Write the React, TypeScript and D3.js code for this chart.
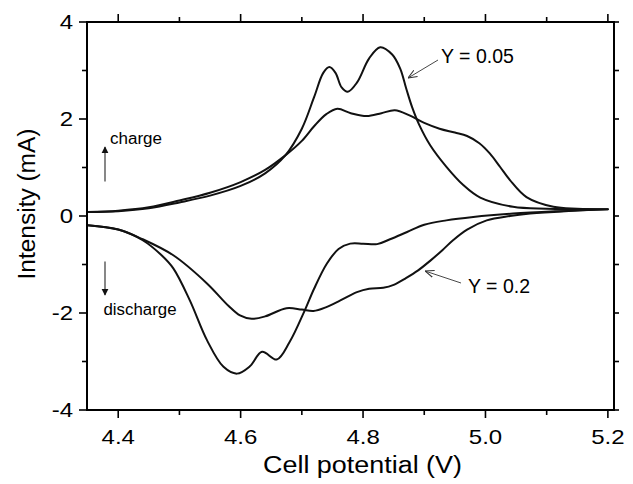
import React from "react";
import * as d3 from "d3";

// ---------- data (potential V, current mA) ----------
const y005Charge: [number, number][] = [
  [4.35, 0.08], [4.4, 0.1], [4.45, 0.16], [4.5, 0.28], [4.55, 0.42], [4.6, 0.62],
  [4.64, 0.88], [4.673, 1.25], [4.7, 1.8], [4.72, 2.45], [4.735, 2.95], [4.745, 3.07],
  [4.755, 2.95], [4.765, 2.65], [4.775, 2.56], [4.79, 2.75], [4.81, 3.25], [4.828, 3.48],
  [4.8476, 3.33], [4.8607, 3.04], [4.8705, 2.63], [4.8803, 2.24], [4.8918, 1.88], [4.9097, 1.46],
  [4.9359, 1.02], [4.9637, 0.64], [4.9915, 0.38], [5.045, 0.19], [5.1, 0.15], [5.2, 0.14],
];
const y005Discharge: [number, number][] = [
  [4.35, -0.19], [4.4, -0.28], [4.44, -0.5], [4.47, -0.8], [4.49, -1.08], [4.517, -1.74],
  [4.545, -2.56], [4.572, -3.11], [4.594, -3.25], [4.615, -3.1], [4.635, -2.8], [4.659, -2.96],
  [4.68, -2.6], [4.705, -1.94], [4.72, -1.5], [4.741, -0.98], [4.76, -0.68], [4.779, -0.57],
  [4.8, -0.57], [4.823, -0.58], [4.844, -0.48], [4.872, -0.33], [4.9, -0.18], [4.936, -0.09],
  [4.98, -0.02], [5.045, 0.05], [5.12, 0.1], [5.2, 0.14],
];
const y02Charge: [number, number][] = [
  [4.35, 0.08], [4.4, 0.11], [4.45, 0.18], [4.5, 0.32], [4.55, 0.48], [4.6, 0.7],
  [4.64, 0.95], [4.673, 1.25], [4.7, 1.55], [4.72, 1.85], [4.74, 2.1], [4.758, 2.21],
  [4.78, 2.12], [4.806, 2.06], [4.83, 2.12], [4.852, 2.18], [4.875, 2.08], [4.9, 1.92],
  [4.925, 1.8], [4.95, 1.72], [4.97, 1.65], [4.99, 1.5], [5.007, 1.29], [5.024, 1.01],
  [5.04, 0.74], [5.067, 0.39], [5.111, 0.19], [5.15, 0.15], [5.2, 0.14],
];
const y02Discharge: [number, number][] = [
  [4.35, -0.19], [4.4, -0.28], [4.44, -0.48], [4.49, -0.81], [4.545, -1.39], [4.58, -1.85],
  [4.599, -2.05], [4.618, -2.12], [4.64, -2.07], [4.675, -1.9], [4.7, -1.93], [4.719, -1.96],
  [4.74, -1.88], [4.763, -1.74], [4.79, -1.57], [4.81, -1.5], [4.833, -1.48], [4.85, -1.42],
  [4.87, -1.28], [4.89, -1.12], [4.91, -0.92], [4.93, -0.7], [4.947, -0.5], [4.97, -0.28],
  [5.002, -0.09], [5.04, 0.0], [5.073, 0.05], [5.13, 0.1], [5.2, 0.14],
];

const xTickLabels = ["4.4", "4.6", "4.8", "5.0", "5.2"];
const xMinorTicks = [4.5, 4.7, 4.9, 5.1];
const yTickLabels = ["-4", "-2", "0", "2", "4"];
const yMinorTicks = [-3, -1, 1, 3];

const W = 633;
const H = 484;
const L = 87, R = 614, T = 22, B = 410;

export default function App() {
  const x = d3.scaleLinear().domain([4.349, 5.21]).range([L, R]);
  const y = d3.scaleLinear().domain([-4, 4]).range([B, T]);
  const line = d3
    .line<[number, number]>()
    .x((d) => x(d[0]))
    .y((d) => y(d[1]))
    .curve(d3.curveCatmullRom.alpha(0.5));

  const loops = [
    [...y005Charge, ...y005Discharge.slice().reverse()],
    [...y02Charge, ...y02Discharge.slice().reverse()],
  ];
  const font = "'Liberation Sans', Arial, sans-serif";
  const tickSW = 1.6;

  return (
    <svg
      width={W}
      height={H}
      style={{ position: "absolute", left: 0, top: 0, background: "#fff" }}
      fontFamily={font}
    >
      <defs>
        <marker id="ah" viewBox="0 0 10 10" refX="10" refY="5" markerWidth="9" markerHeight="9" orient="auto-start-reverse" markerUnits="userSpaceOnUse">
          <path d="M0,1 L10,5 L0,9" fill="none" stroke="#333" strokeWidth="1.2" />
        </marker>
        <marker id="ahf" viewBox="0 0 10 10" refX="9" refY="5" markerWidth="7" markerHeight="9" orient="auto" markerUnits="userSpaceOnUse">
          <path d="M0,0 L10,5 L0,10 Z" fill="#111" />
        </marker>
      </defs>

      {/* curves */}
      {loops.map((d, i) => (
        <path key={i} d={line(d) || ""} fill="none" stroke="#111" strokeWidth={2} strokeLinejoin="round" />
      ))}

      {/* frame */}
      <rect x={L} y={T} width={R - L} height={B - T} fill="none" stroke="#000" strokeWidth={2} />

      {/* x ticks */}
      {xTickLabels.map((t) => {
        const px = x(+t);
        return (
          <g key={"xt" + t}>
            <line x1={px} x2={px} y1={B} y2={B + 8} stroke="#000" strokeWidth={tickSW} />
            <line x1={px} x2={px} y1={T} y2={T - 8} stroke="#000" strokeWidth={tickSW} />
            <text transform={`translate(${px},443.5) scale(1.2,1)`} textAnchor="middle" fontSize={20} fill="#000">
              {t}
            </text>
          </g>
        );
      })}
      {xMinorTicks.map((v) => {
        const px = x(v);
        return (
          <g key={"xm" + v}>
            <line x1={px} x2={px} y1={B} y2={B + 5} stroke="#000" strokeWidth={tickSW} />
            <line x1={px} x2={px} y1={T} y2={T - 5} stroke="#000" strokeWidth={tickSW} />
          </g>
        );
      })}

      {/* y ticks */}
      {yTickLabels.map((t) => {
        const py = y(+t);
        return (
          <g key={"yt" + t}>
            <line x1={L} x2={L - 8} y1={py} y2={py} stroke="#000" strokeWidth={tickSW} />
            <line x1={R} x2={R + 5} y1={py} y2={py} stroke="#000" strokeWidth={tickSW} />
            <text transform={`translate(73,${py + 7}) scale(1.2,1)`} textAnchor="end" fontSize={20} fill="#000">
              {t}
            </text>
          </g>
        );
      })}
      {yMinorTicks.map((v) => {
        const py = y(v);
        return (
          <g key={"ym" + v}>
            <line x1={L} x2={L - 5} y1={py} y2={py} stroke="#000" strokeWidth={tickSW} />
            <line x1={R} x2={R + 5} y1={py} y2={py} stroke="#000" strokeWidth={tickSW} />
          </g>
        );
      })}

      {/* axis titles */}
      <text x={362.5} y={473} textAnchor="middle" fontSize={23.5} textLength={199} lengthAdjust="spacingAndGlyphs" fill="#000">
        Cell potential (V)
      </text>
      <text transform="translate(35,204) rotate(-90)" textAnchor="middle" fontSize={23.5} textLength={151} lengthAdjust="spacingAndGlyphs" fill="#000">
        Intensity (mA)
      </text>

      {/* charge / discharge annotations */}
      <line x1={105} y1={181.5} x2={105} y2={147} stroke="#555" strokeWidth={1.4} markerEnd="url(#ahf)" />
      <text x={110} y={144} fontSize={16} textLength={52} lengthAdjust="spacingAndGlyphs" fill="#000">charge</text>
      <line x1={105} y1={261.5} x2={105} y2={295} stroke="#555" strokeWidth={1.4} markerEnd="url(#ahf)" />
      <text x={103.5} y={315} fontSize={16} textLength={73} lengthAdjust="spacingAndGlyphs" fill="#000">discharge</text>

      {/* sample labels */}
      <line x1={438} y1={60} x2={408} y2={78} stroke="#333" strokeWidth={0.9} markerEnd="url(#ah)" />
      <text x={441} y={63} fontSize={19.5} fill="#000">Y = 0.05</text>
      <line x1={461} y1={283} x2={425} y2={271} stroke="#333" strokeWidth={0.9} markerEnd="url(#ah)" />
      <text x={468} y={293} fontSize={19.5} fill="#000">Y = 0.2</text>
    </svg>
  );
}
